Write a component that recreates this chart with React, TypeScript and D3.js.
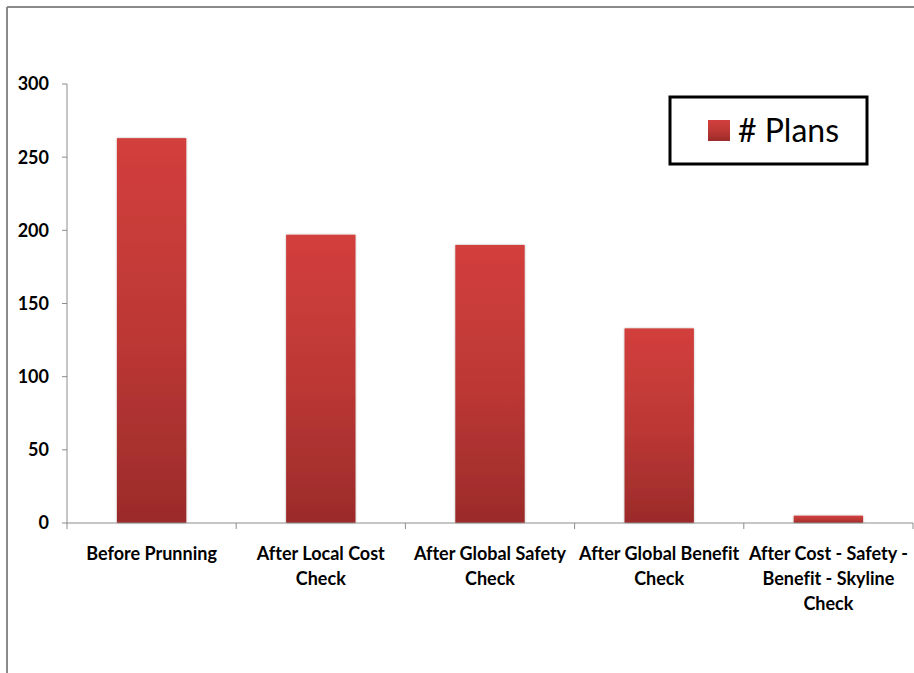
import React from "react";
import * as d3 from "d3";

const categories = [
  ["Before Prunning"],
  ["After Local Cost", "Check"],
  ["After Global Safety", "Check"],
  ["After Global Benefit", "Check"],
  ["After Cost - Safety -", "Benefit - Skyline", "Check"],
];
const planCounts = [263, 197, 190, 133, 5];
const yTicks = [0, 50, 100, 150, 200, 250, 300];
const seriesName = "# Plans";

const W = 914;
const H = 673;
const x0 = 67;
const x1 = 913;
const yTop = 84;
const yBot = 523;

export default function App() {
  const x = d3
    .scaleBand<number>()
    .domain(d3.range(categories.length))
    .range([x0, x1])
    .paddingInner(0.59)
    .paddingOuter(0.295);
  const y = d3.scaleLinear().domain([0, 300]).range([yBot, yTop]);
  const step = (x1 - x0) / categories.length;
  const font = "Lato, 'Open Sans', sans-serif";

  return (
    <svg
      width={W}
      height={H}
      style={{ position: "absolute", left: 0, top: 0, background: "#fff", fontVariantLigatures: "none" }}
    >
      <defs>
        <linearGradient id="barGrad" x1="0" y1="0" x2="0" y2="1">
          <stop offset="0%" stopColor="#d23f3c" />
          <stop offset="50%" stopColor="#bd3835" />
          <stop offset="100%" stopColor="#9b2b2a" />
        </linearGradient>
        <filter id="shadow" x="-10%" y="-10%" width="120%" height="120%">
          <feDropShadow dx="0" dy="0" stdDeviation="1" floodColor="#000" floodOpacity="0.3" />
        </filter>
      </defs>
      {/* outer border */}
      <line x1={7} y1={7} x2={W} y2={7} stroke="#8a8a8a" strokeWidth={2} />
      <line x1={7} y1={7} x2={7} y2={H} stroke="#8a8a8a" strokeWidth={2} />

      {/* y axis */}
      <line x1={x0} y1={yTop} x2={x0} y2={yBot} stroke="#8c8c8c" strokeWidth={1} />
      {yTicks.map((t) => (
        <g key={t}>
          <line x1={x0 - 5} x2={x0} y1={y(t)} y2={y(t)} stroke="#8c8c8c" />
          <text
            x={49}
            y={y(t)}
            dy="0.36em"
            textAnchor="end"
            fontFamily={font}
            fontWeight="bold"
            fontSize={18}
            fill="#000"
          >
            {t}
          </text>
        </g>
      ))}

      {/* bars */}
      {planCounts.map((v, i) => (
        <rect
          key={i}
          x={x(i)}
          y={y(v)}
          width={x.bandwidth()}
          height={y(0) - y(v)}
          fill="url(#barGrad)"
          filter="url(#shadow)"
        />
      ))}

      {/* x axis */}
      <line x1={x0} y1={yBot} x2={x1} y2={yBot} stroke="#8c8c8c" strokeWidth={1} />
      {d3.range(categories.length + 1).map((i) => (
        <line
          key={i}
          x1={x0 + i * step}
          x2={x0 + i * step}
          y1={yBot}
          y2={yBot + 6}
          stroke="#8c8c8c"
        />
      ))}
      {categories.map((lines, i) => (
        <text
          key={i}
          textAnchor="middle"
          fontFamily={font}
          fontWeight="bold"
          fontSize={18}
          fill="#000"
        >
          {lines.map((l, j) => (
            <tspan key={j} x={(x(i) as number) + x.bandwidth() / 2} y={560 + j * 25}>
              {l}
            </tspan>
          ))}
        </text>
      ))}

      {/* legend */}
      <rect x={670} y={97} width={197} height={67} fill="#fff" stroke="#000" strokeWidth={3} />
      <rect x={708} y={120} width={22} height={21} fill="url(#barGrad)" />
      <text x={738} y={142} fontFamily={font} fontSize={32} fill="#000">
        {seriesName}
      </text>
    </svg>
  );
}
